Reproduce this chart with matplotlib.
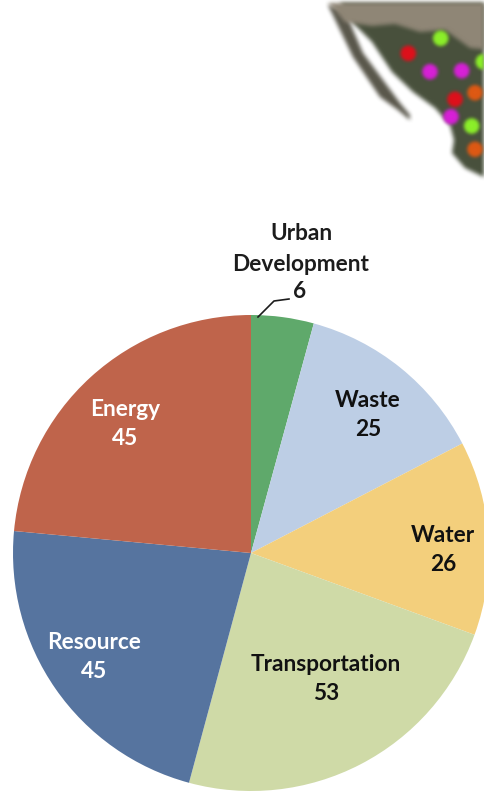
import numpy as np
import matplotlib
matplotlib.use("Agg")
import matplotlib.pyplot as plt

W, H = 485, 798

# Chart values as labelled
categories = ["Urban\nDevelopment", "Waste", "Water", "Transportation", "Resource", "Energy"]
labels = [6, 25, 26, 53, 45, 45]
# Slice spans as drawn in the picture (degrees)
spans = [15.3, 47.3, 47.5, 85.0, 80.2, 84.7]
colors = ["#5FA96B", "#BDCEE5", "#F3CF7C", "#CFDAA7", "#56749F", "#BF644B"]
text_colors = ["#1c1c1c", "#111111", "#111111", "#111111", "#ffffff", "#ffffff"]
label_px = [None, (368, 415), (443, 550), (326, 679), (94, 657), (125, 424)]

# Map inset: site markers
site_x = [440.7, 408.3, 430, 461.7, 483.3, 475, 455, 451, 471.7, 475]
site_y = [38.3, 53.3, 71.7, 70.7, 61.7, 92.7, 99.3, 116.7, 126, 149.3]
site_c = ["#8CF02A", "#E0101C", "#D820D8", "#D820D8", "#8CF02A",
          "#E05A14", "#E0101C", "#D820D8", "#8CF02A", "#E05A14"]

land_x = [340, 490, 490, 465, 452, 454, 450, 435, 413, 392, 372, 355]
land_y = [3, 3, 180, 168, 153, 140, 125, 108, 92, 72, 42, 25]
north_x = [328, 490, 490, 470, 445, 420, 395, 372, 345, 335]
north_y = [3, 3, 50, 48, 30, 32, 24, 26, 22, 10]
baja_x = [328, 340, 353, 380, 398, 410, 410, 400, 383, 363, 353, 345]
baja_y = [5, 30, 57, 97, 110, 120, 115, 103, 80, 53, 30, 10]


def blur(radius):
    def f(img, dpi):
        pad = radius * 3
        out = np.zeros((img.shape[0] + 2 * pad, img.shape[1] + 2 * pad, 4))
        out[pad:-pad, pad:-pad] = img
        a = out[..., 3:4].copy()
        out[..., :3] *= a
        k = np.ones(2 * radius + 1) / (2 * radius + 1)
        for _ in range(2):
            for ch in range(4):
                out[..., ch] = np.apply_along_axis(np.convolve, 0, out[..., ch], k, "same")
                out[..., ch] = np.apply_along_axis(np.convolve, 1, out[..., ch], k, "same")
        a = np.clip(out[..., 3:4], 1e-4, 1)
        out[..., :3] = np.clip(out[..., :3] / a, 0, 1)
        return out, -pad, -pad
    return f


def py(v):
    return H - np.asarray(v, dtype=float)


fig = plt.figure(figsize=(W / 100, H / 100), dpi=100, facecolor="white")
ax = fig.add_axes([0, 0, 1, 1])
ax.set_xlim(0, W)
ax.set_ylim(0, H)
ax.axis("off")

# Map
for xs, ys, c in [(baja_x, baja_y, "#59574b"), (land_x, land_y, "#48503c"), (north_x, north_y, "#8f8676")]:
    p, = ax.fill(xs, py(ys), color=c, lw=0, zorder=1)
    p.set_agg_filter(blur(2))
sc = ax.scatter(site_x, py(site_y), s=125, c=site_c, lw=0, zorder=2)
sc.set_agg_filter(blur(1))

# Pie
wedges, _ = ax.pie(spans, colors=colors, startangle=90, counterclock=False,
                   center=(251, H - 553), radius=238, frame=False,
                   wedgeprops={"linewidth": 0, "zorder": 3})
ax.set_xlim(0, W)
ax.set_ylim(0, H)
ax.set_aspect("auto")

font = {"family": "Lato", "weight": "bold", "fontsize": 16.3}
for name, val, pos, tc in zip(categories, labels, label_px, text_colors):
    if pos is None:
        continue
    ax.text(pos[0], H - pos[1], f"{name}\n{val}", color=tc, ha="center", va="center",
            linespacing=1.45, zorder=5, **font)

ax.text(301, H - 249, categories[0], color=text_colors[0], ha="center", va="center",
        linespacing=1.55, zorder=5, **font)
ax.text(300, H - 291, str(labels[0]), color=text_colors[0], ha="center", va="center", zorder=5, **font)
ax.plot([258, 274, 289], py([317, 301, 299]), color="#1c1c1c", lw=1.2, zorder=5)

fig.savefig("out.png", dpi=100, facecolor="white")
